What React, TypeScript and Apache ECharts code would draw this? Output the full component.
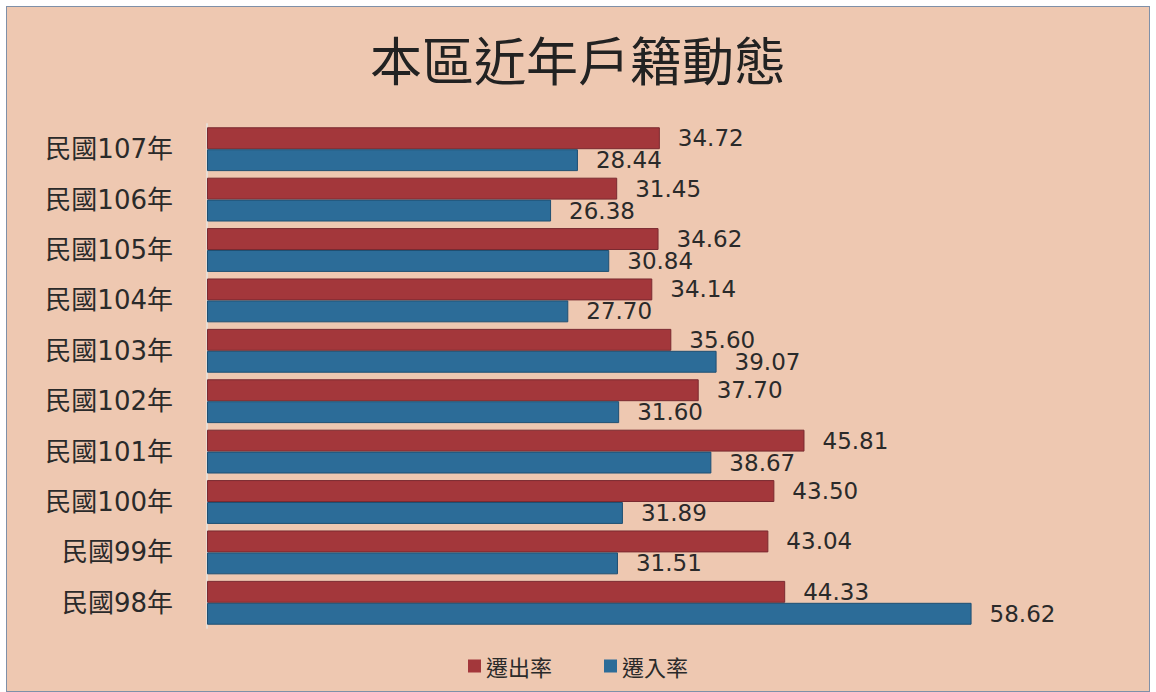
import React, { useEffect, useRef } from "react";
import * as echarts from "echarts";

const categories = ["民國98年", "民國99年", "民國100年", "民國101年", "民國102年", "民國103年", "民國104年", "民國105年", "民國106年", "民國107年"];
const outRate = [44.33, 43.04, 43.5, 45.81, 37.7, 35.6, 34.14, 34.62, 31.45, 34.72];
const inRate = [58.62, 31.51, 31.89, 38.67, 31.6, 39.07, 27.7, 30.84, 26.38, 28.44];
const titleText = "本區近年戶籍動態";

export default function App() {
  const ref = useRef<HTMLDivElement>(null);
  useEffect(() => {
    if (!ref.current) return;
    const chart = echarts.init(ref.current, null, { renderer: "svg" });
    const font = "'Noto Sans CJK TC', 'Noto Sans', sans-serif";
    const mixFont = "'DejaVu Sans', 'Noto Sans CJK TC', sans-serif";
    const labelStyle = {
      show: true,
      position: "right" as const,
      distance: 18,
      fontSize: 23,
      color: "#2a2a2a",
      fontFamily: "'DejaVu Sans', sans-serif",
      textShadowColor: "rgba(220,170,0,0.7)",
      textShadowOffsetX: 1,
      textShadowOffsetY: 1,
      textShadowBlur: 0,
      formatter: (p: any) => Number(p.value).toFixed(2),
    };
    chart.setOption({
      animation: false,
      backgroundColor: "#eec8b1",
      title: {
        text: titleText,
        left: "center",
        top: 20,
        textStyle: {
          fontSize: 52,
          fontWeight: "normal",
          color: "#222",
          fontFamily: font,
          textShadowColor: "#e0b000",
          textShadowOffsetX: 1,
          textShadowOffsetY: 2,
          textShadowBlur: 0,
        },
      },
      legend: {
        data: ["遷出率", "遷入率"],
        top: 643,
        left: "center",
        icon: "rect",
        itemWidth: 13,
        itemHeight: 13,
        itemGap: 52,
        itemStyle: { borderWidth: 0 },
        textStyle: { fontSize: 22, color: "#2a2a2a", fontFamily: font },
      },
      grid: { left: 200, top: 117, width: 913, height: 504 },
      xAxis: {
        type: "value",
        min: 0,
        max: 70,
        show: false,
      },
      yAxis: {
        type: "category",
        data: categories,
        axisLine: { show: true, lineStyle: { color: "#e9ddd4", width: 2 } },
        axisTick: { show: false },
        axisLabel: {
          fontSize: 26,
          color: "#2a2a2a",
          margin: 34,
          fontFamily: mixFont,
          textShadowColor: "rgba(220,170,0,0.6)",
          textShadowOffsetX: 1,
          textShadowOffsetY: 1,
        },
      },
      series: [
        {
          name: "遷出率",
          type: "bar",
          data: outRate,
          barGap: "0%",
          barCategoryGap: "13%",
          itemStyle: { color: "#a3373b", borderColor: "#7a2a30", borderWidth: 1 },
          label: labelStyle,
        },
        {
          name: "遷入率",
          type: "bar",
          data: inRate,
          barGap: "0%",
          barCategoryGap: "13%",
          itemStyle: { color: "#2c6c98", borderColor: "#1f4f72", borderWidth: 1 },
          label: labelStyle,
        },
      ],
    });
    return () => chart.dispose();
  }, []);
  return (
    <div
      style={{
        position: "fixed",
        left: 6,
        top: 6,
        width: 1142,
        height: 684,
        border: "1px solid #7f90a8",
        background: "#eec8b1",
      }}
    >
      <div ref={ref} style={{ width: 1142, height: 684 }} />
    </div>
  );
}
